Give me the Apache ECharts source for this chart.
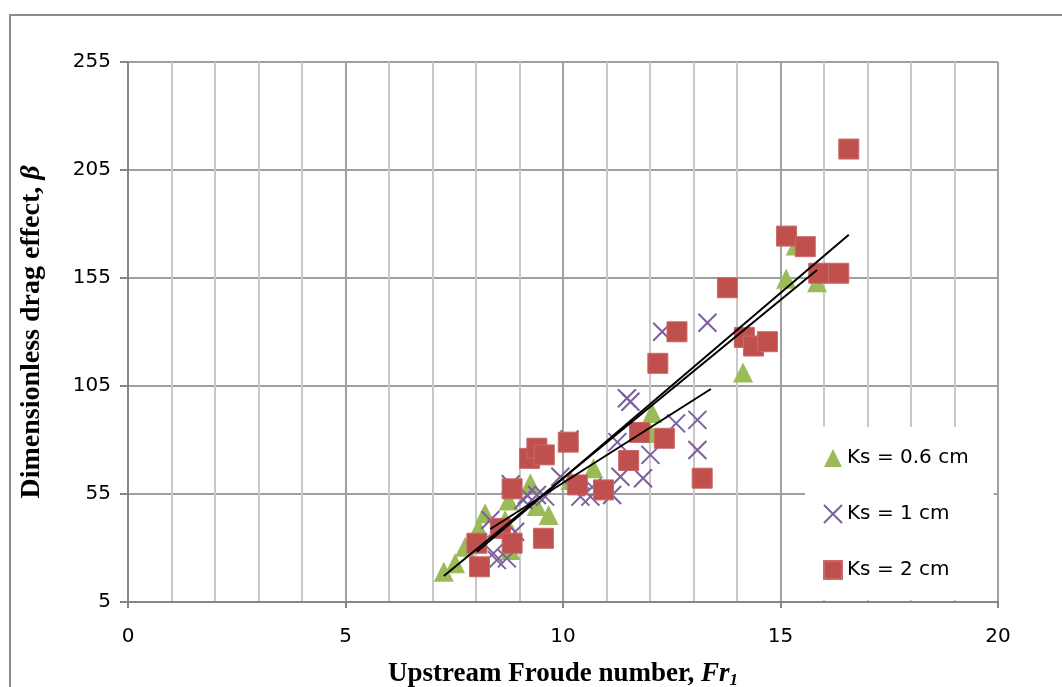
<!DOCTYPE html>
<html>
<head>
<meta charset="utf-8">
<script src="https://cdn.jsdelivr.net/npm/echarts@6/dist/echarts.min.js"></script>
<style>
html,body{margin:0;padding:0;background:#fff;}
#main{width:1062px;height:687px;}
</style>
</head>
<body>
<div id="main"></div>
<script>
// Ks = 0.6 cm (triangles)
var ks06 = [[7.26,19.0],[7.52,22.9],[7.75,30.6],[8.06,39.1],[8.21,46.1],[8.67,43.0],[8.75,52.0],[8.79,29.1],
	[9.25,60.0],[9.40,49.5],[9.67,45.3],[10.17,61.5],[10.70,66.9],[12.01,83.2],[12.05,92.5],[14.14,111.2],
	[15.13,154.7],[15.35,170.0],[15.84,153.0]];
// Ks = 1 cm (crosses)
var ks1 = [[8.33,43.0],[8.40,27.5],[8.48,24.4],[8.48,39.1],[8.71,25.2],[8.80,59.5],[8.90,37.5],[9.09,52.2],
	[9.17,54.5],[9.40,54.5],[9.59,53.8],[9.94,63.0],[10.15,80.3],[10.40,53.8],[10.63,53.8],[10.67,58.2],
	[11.13,54.5],[11.25,79.0],[11.32,63.0],[11.47,99.3],[11.55,97.7],[11.84,62.3],[12.01,73.1],[12.28,130.1],
	[12.60,87.7],[13.09,89.3],[13.09,75.4],[13.32,134.3]];
// Ks = 2 cm (squares)
var ks2 = [[8.02,32.2],[8.08,21.3],[8.56,39.1],[8.83,32.2],[8.83,57.4],[9.23,71.5],[9.40,76.2],[9.57,73.1],
	[9.55,34.5],[10.12,79.0],[10.33,59.2],[10.93,56.9],[11.51,70.5],[11.76,83.5],[12.33,80.8],[12.18,115.5],
	[12.62,130.1],[13.20,62.3],[13.78,150.5],[14.17,127.5],[14.38,123.5],[14.70,125.5],[15.14,174.4],
	[15.57,169.5],[15.88,157.2],[16.34,157.2],[16.57,214.7]];
// linear trendlines (end points)
var trend06 = [[7.26,17.0],[15.84,158.7]];
var trend1 = [[8.33,38.8],[13.40,103.6]];
var trend2 = [[8.02,28.3],[16.57,175.0]];

var seriesNames = ['Ks = 0.6 cm','Ks = 1 cm','Ks = 2 cm'];
var crossPath = 'path://M0,0L20,20M20,0L0,20';

function trendSeries(d){
	return {
		type:'line', data:d, symbol:'none', silent:true, z:5,
		lineStyle:{color:'#000',width:2}
	};
}

var option = {
	animation:false,
	backgroundColor:'#fff',
	graphic:[{
		type:'rect', shape:{x:10,y:15,width:1200,height:800},
		style:{fill:'none',stroke:'#8c8c8c',lineWidth:2}, silent:true
	}],
	grid:{left:128,right:64,top:62,bottom:85,outerBoundsMode:'none',containLabel:false},
	legend:{
		data:seriesNames,
		orient:'vertical',
		left:805, top:427,
		padding:[21,25,20,18],
		itemGap:36,
		itemWidth:18, itemHeight:18,
		backgroundColor:'#fff',
		textStyle:{fontFamily:'DejaVu Sans',fontSize:20,color:'#000'},
		z:10
	},
	xAxis:{
		type:'value', min:0, max:20, interval:5,
		name:'{a|Upstream Froude number, }{i|Fr}{s|1}',
		nameLocation:'middle', nameGap:57,
		nameTextStyle:{
			rich:{
				a:{fontFamily:'Liberation Serif',fontWeight:'bold',fontSize:27,color:'#000'},
				i:{fontFamily:'Liberation Serif',fontWeight:'bold',fontStyle:'italic',fontSize:27,color:'#000'},
				s:{fontFamily:'Liberation Serif',fontWeight:'bold',fontStyle:'italic',fontSize:17,color:'#000',padding:[13,0,0,0]}
			}
		},
		axisLine:{lineStyle:{color:'#868686',width:2}},
		axisTick:{show:true,length:6,lineStyle:{color:'#868686',width:2}},
		minorTick:{show:false,splitNumber:5},
		axisLabel:{fontFamily:'DejaVu Sans',fontSize:20,color:'#000',margin:25},
		splitLine:{show:true,lineStyle:{color:'#a0a0a0',width:2}},
		minorSplitLine:{show:true,lineStyle:{color:'#c8c8c8',width:2}}
	},
	yAxis:{
		type:'value', min:5, max:255, interval:50,
		name:'{a|Dimensionless drag effect, }{i|β}',
		nameLocation:'middle', nameGap:82, nameRotate:90,
		nameTextStyle:{
			rich:{
				a:{fontFamily:'Liberation Serif',fontWeight:'bold',fontSize:28,color:'#000'},
				i:{fontFamily:'Liberation Serif',fontWeight:'bold',fontStyle:'italic',fontSize:28,color:'#000'}
			}
		},
		axisLine:{show:true,lineStyle:{color:'#868686',width:2}},
		axisTick:{show:true,length:8,lineStyle:{color:'#868686',width:2}},
		axisLabel:{fontFamily:'DejaVu Sans',fontSize:20,color:'#000',margin:17},
		splitLine:{show:true,lineStyle:{color:'#a0a0a0',width:2}}
	},
	series:[
		{
			name:seriesNames[0], type:'scatter', data:ks06,
			symbol:'triangle', symbolSize:20, z:2,
			itemStyle:{color:'#9bbb59',opacity:1}
		},
		{
			name:seriesNames[1], type:'scatter', data:ks1,
			symbol:crossPath, symbolSize:18, z:3,
			itemStyle:{color:'#7d5f9e',borderColor:'#7d5f9e',borderWidth:2,opacity:1}
		},
		{
			name:seriesNames[2], type:'scatter', data:ks2,
			symbol:'rect', symbolSize:20, z:4,
			itemStyle:{color:'#c0504d',borderColor:'#c86a67',borderWidth:1,opacity:1}
		},
		trendSeries(trend06),
		trendSeries(trend1),
		trendSeries(trend2)
	]
};

var myChart = echarts.init(document.getElementById('main'));
myChart.setOption(option);
</script>
</body>
</html>
